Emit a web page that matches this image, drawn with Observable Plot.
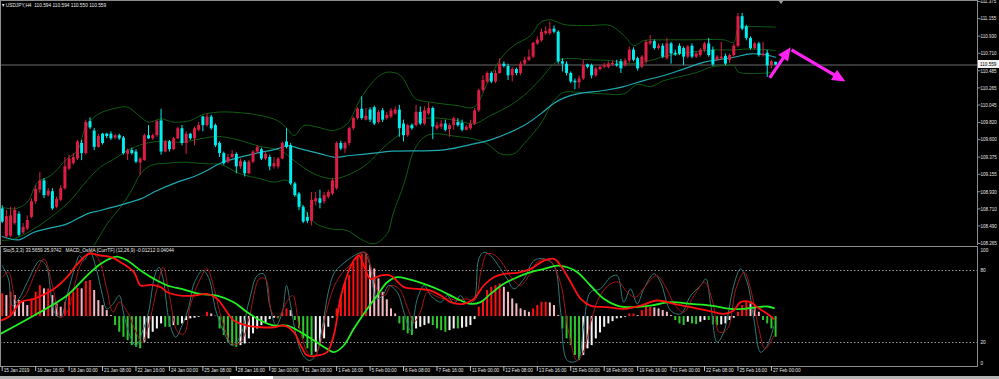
<!DOCTYPE html>
<html><head><meta charset="utf-8">
<script src="https://cdn.jsdelivr.net/npm/d3@7"></script>
<script src="https://cdn.jsdelivr.net/npm/@observablehq/plot@0.6"></script>
<style>
html,body{margin:0;padding:0;background:#000;width:999px;height:379px;overflow:hidden;}
#wrap{position:relative;width:999px;height:379px;background:#000;}
#wrap svg{display:block;}
.lbl{position:absolute;color:#e8e8e8;font-size:6px;font-family:"Liberation Sans",Arial,sans-serif;white-space:pre;line-height:8px;transform:scaleX(0.8);transform-origin:0 50%;}
</style></head><body><div id="wrap"></div>
<script>
// ---- candles (USDJPY H4), bar index 0 = 15 Jan 2019 08:00 ----
const open = [108.71,108.35,108.36,108.52,108.64,108.40,108.45,108.60,108.80,108.95,
109.07,108.88,108.93,108.73,108.82,108.97,109.22,109.29,109.35,109.55,
109.42,109.83,109.71,109.50,109.67,109.67,109.67,109.62,109.65,109.62,
109.41,109.46,109.44,109.30,109.33,109.65,109.61,109.65,109.84,109.44,
109.57,109.47,109.61,109.74,109.55,109.67,109.61,109.72,109.89,109.78,
109.89,109.78,109.55,109.42,109.31,109.37,109.41,109.25,109.31,109.16,
109.31,109.44,109.47,109.35,109.37,109.25,109.25,109.35,109.57,109.52,
109.03,108.90,108.73,108.60,108.55,108.80,108.84,108.80,108.86,108.90,
108.97,109.55,109.48,109.55,109.74,109.87,109.99,109.85,109.98,110.01,
109.82,109.97,109.87,109.89,109.93,109.98,109.80,109.65,109.78,109.78,
109.95,109.80,109.93,110.00,109.74,109.76,109.80,109.73,109.78,109.82,
109.81,109.72,109.74,109.80,109.97,110.23,110.34,110.45,110.34,110.45,
110.57,110.54,110.42,110.50,110.45,110.57,110.62,110.66,110.83,110.87,
110.96,110.96,111.02,110.98,110.60,110.57,110.45,110.35,110.33,110.38,
110.56,110.55,110.42,110.50,110.53,110.53,110.56,110.57,110.60,110.55,
110.61,110.75,110.64,110.53,110.60,110.83,110.86,110.77,110.80,110.64,
110.83,110.71,110.80,110.77,110.66,110.80,110.66,110.68,110.75,110.83,
110.75,110.62,110.64,110.67,110.62,110.68,110.80,111.18,111.05,110.90,
110.77,110.83,110.68,110.71,110.55,110.594];
const high = [108.75,108.69,108.73,108.73,108.67,108.52,108.62,108.84,109.01,109.18,
109.10,108.97,108.97,108.86,109.01,109.37,109.40,109.42,109.59,109.59,
109.85,109.88,109.74,109.67,109.68,109.68,109.70,109.67,109.67,109.64,
109.48,109.49,109.47,109.37,109.67,109.78,109.67,109.85,109.99,109.59,
109.59,109.63,109.76,109.78,109.70,109.68,109.76,109.82,109.90,109.93,
109.91,109.80,109.57,109.44,109.41,109.46,109.43,109.35,109.33,109.33,
109.46,109.52,109.49,109.44,109.40,109.37,109.37,109.57,109.74,109.55,
109.05,108.92,108.75,108.66,108.92,108.92,108.95,108.92,108.95,109.10,
109.57,109.58,109.57,109.76,109.89,110.01,110.15,110.00,110.01,110.03,
109.98,110.00,109.95,110.00,110.02,110.04,109.85,109.80,109.80,110.04,
110.02,110.02,110.07,110.02,109.82,109.85,109.85,109.80,109.89,109.87,
109.85,109.78,109.85,110.00,110.25,110.42,110.47,110.47,110.49,110.64,
110.60,110.57,110.53,110.52,110.60,110.66,110.75,110.85,110.92,111.02,
111.05,111.11,111.06,111.00,110.64,110.60,110.47,110.38,110.42,110.62,
110.57,110.57,110.53,110.55,110.58,110.60,110.61,110.62,110.63,110.64,
110.79,110.78,110.66,110.68,110.87,110.94,110.88,110.83,110.83,110.90,
110.85,110.75,110.83,110.79,110.81,110.83,110.72,110.77,110.85,110.90,
110.79,110.68,110.85,110.70,110.70,110.83,111.22,111.22,111.07,110.92,
110.85,110.85,110.85,110.75,110.62,110.594];
const low = [108.52,108.33,108.34,108.50,108.35,108.38,108.43,108.58,108.77,108.91,
108.84,108.86,108.69,108.71,108.80,108.95,109.20,109.27,109.33,109.33,
109.40,109.73,109.46,109.49,109.53,109.61,109.59,109.60,109.59,109.40,
109.33,109.40,109.29,109.14,109.32,109.60,109.59,109.63,109.40,109.43,
109.44,109.46,109.60,109.52,109.41,109.59,109.52,109.70,109.70,109.76,
109.72,109.50,109.37,109.27,109.29,109.35,109.16,109.22,109.12,109.15,
109.29,109.42,109.33,109.33,109.20,109.22,109.22,109.34,109.48,109.01,
108.86,108.69,108.52,108.52,108.49,108.75,108.71,108.77,108.84,108.88,
108.95,109.46,109.42,109.52,109.72,109.85,109.85,109.84,109.82,109.78,
109.80,109.82,109.85,109.87,109.91,109.63,109.57,109.63,109.72,109.76,
109.78,109.78,109.91,109.60,109.72,109.73,109.70,109.63,109.72,109.76,
109.70,109.71,109.72,109.78,109.95,110.21,110.32,110.32,110.32,110.44,
110.52,110.36,110.34,110.42,110.42,110.55,110.60,110.64,110.81,110.85,
110.94,110.94,110.96,110.57,110.47,110.42,110.32,110.24,110.25,110.36,
110.51,110.38,110.40,110.48,110.51,110.51,110.54,110.53,110.45,110.53,
110.58,110.60,110.48,110.51,110.57,110.81,110.75,110.75,110.64,110.62,
110.57,110.67,110.68,110.55,110.64,110.64,110.64,110.66,110.72,110.66,
110.54,110.60,110.62,110.55,110.58,110.66,110.78,111.00,110.87,110.75,
110.75,110.66,110.66,110.40,110.51,110.550];
const close = [108.54,108.61,108.62,108.69,108.37,108.47,108.56,108.80,108.96,109.07,
108.88,108.94,108.71,108.83,108.97,109.25,109.35,109.37,109.57,109.42,
109.82,109.75,109.50,109.64,109.55,109.64,109.61,109.65,109.61,109.42,
109.46,109.42,109.31,109.35,109.65,109.61,109.65,109.83,109.44,109.57,
109.47,109.61,109.74,109.55,109.67,109.61,109.74,109.78,109.78,109.89,
109.74,109.52,109.42,109.29,109.37,109.41,109.25,109.32,109.16,109.31,
109.44,109.50,109.35,109.41,109.25,109.29,109.35,109.55,109.50,109.03,
108.88,108.73,108.54,108.55,108.82,108.84,108.78,108.88,108.92,109.07,
109.55,109.48,109.55,109.74,109.87,109.99,109.87,109.90,109.85,109.80,
109.95,109.85,109.91,109.97,109.98,109.74,109.65,109.78,109.74,109.95,
109.80,109.97,110.00,109.76,109.78,109.80,109.72,109.78,109.87,109.78,
109.72,109.76,109.80,109.97,110.23,110.36,110.45,110.34,110.45,110.57,
110.54,110.42,110.50,110.45,110.57,110.62,110.66,110.84,110.88,110.98,
110.99,111.02,110.98,110.60,110.57,110.45,110.34,110.33,110.38,110.55,
110.53,110.42,110.51,110.53,110.55,110.57,110.58,110.55,110.51,110.61,
110.75,110.62,110.51,110.66,110.85,110.86,110.77,110.80,110.66,110.83,
110.70,110.69,110.70,110.66,110.79,110.66,110.70,110.75,110.83,110.68,
110.56,110.66,110.66,110.57,110.68,110.80,111.18,111.02,110.90,110.77,
110.83,110.68,110.70,110.55,110.60,110.559];

// ---- Bollinger bands and moving average, read as [bar, price] ----
const bbUpper = [[0,108.731],[3,108.710],[6,108.796],[8.5,109.053],[11.6,109.138],[15.5,109.353],[18,109.460],[20,109.760],[22.8,109.922],[27.5,110.008],[30,110.017],[33,109.897],[35,109.824],[38,109.867],[41,109.824],[45,109.845],[48,109.922],[51.4,109.952],[55.4,109.952],[61.8,109.910],[65.8,109.845],[68.2,109.738],[69.8,109.652],[72.2,109.781],[75.4,109.760],[79.3,109.717],[82.5,109.802],[85.7,110.124],[88.9,110.359],[91.3,110.454],[93.2,110.466],[95.3,110.424],[97.7,110.209],[98.9,110.124],[102.5,110.081],[108.8,110.038],[112.8,110.017],[116,110.317],[119.2,110.638],[122.4,110.809],[126.4,110.938],[128.8,111.109],[131.2,111.139],[134.4,111.079],[140.7,111.066],[145.5,111.066],[148.7,110.938],[151.1,110.809],[153.5,110.873],[158.3,110.882],[164.7,110.882],[172.6,110.882],[175,110.852],[176.2,111.045],[179,111.053],[185,111.045]];
const bbMiddle = [[0,108.303],[2.8,108.324],[7.6,108.453],[15.5,108.774],[20.3,109.074],[23.5,109.246],[27.5,109.374],[29.9,109.460],[33.9,109.545],[37.9,109.580],[42.7,109.567],[47.4,109.610],[51.4,109.640],[55.4,109.610],[61.8,109.511],[66.6,109.460],[69.8,109.331],[74.6,109.160],[79.3,109.096],[83.3,109.160],[87.3,109.288],[91.3,109.503],[93.2,109.588],[95.3,109.674],[100.9,109.867],[108.8,109.845],[112.8,109.802],[116.8,109.910],[120.8,110.017],[124.8,110.167],[128.8,110.381],[132,110.574],[134.4,110.638],[140.7,110.625],[145.5,110.616],[150.3,110.574],[155.1,110.616],[158.3,110.668],[164.7,110.724],[171,110.753],[175,110.753],[179,110.766],[185,110.745]];
const bbLower = [[0,107.875],[8,107.575],[14,107.832],[18,108.003],[21.9,108.239],[25.1,108.517],[28.3,108.731],[30.7,108.924],[33.1,109.160],[35.5,109.267],[39.5,109.297],[43.5,109.310],[49,109.288],[52.2,109.280],[57,109.160],[61.8,109.096],[65,109.053],[68.2,109.074],[70.6,108.860],[74.6,108.539],[78.5,108.453],[82.5,108.432],[85.7,108.324],[88.9,108.260],[92.1,108.389],[93.5,108.646],[96.1,109.031],[98.5,109.460],[100.9,109.631],[103.3,109.674],[108.8,109.640],[112.8,109.610],[116,109.545],[119.2,109.417],[122.4,109.417],[124.8,109.545],[128.8,109.802],[132,110.102],[134.4,110.209],[137.6,110.209],[143.9,110.188],[148.7,110.188],[151.9,110.308],[155.1,110.282],[158.3,110.359],[161.5,110.402],[166.3,110.466],[169.5,110.531],[172.6,110.552],[175,110.552],[176.2,110.466],[185,110.466]];
const movingAvg = [[0,108.354],[4,108.312],[7.6,108.410],[15.5,108.517],[20.3,108.646],[23.5,108.689],[29.9,108.783],[33.1,108.838],[37.1,108.946],[41.9,109.053],[45.9,109.126],[49,109.203],[52.2,109.297],[55.4,109.353],[60.2,109.417],[65.8,109.481],[68.2,109.524],[71.4,109.481],[76.2,109.417],[79.3,109.374],[83.3,109.396],[88.9,109.426],[93.2,109.451],[105.7,109.468],[112.8,109.545],[116.8,109.597],[124.8,109.781],[128.8,109.931],[132,110.068],[134.4,110.137],[137.6,110.188],[143.9,110.231],[148.7,110.282],[153.5,110.359],[158.3,110.424],[163.1,110.509],[167.9,110.595],[171,110.625],[175,110.659],[179,110.702],[182.2,110.694],[185,110.659]];

// ---- hand-drawn arrows [bar1, price1, bar2, price2] ----
const arrows = [[183.6,110.394,188.6,110.788],[188.8,110.754,201.7,110.347]];

// ---- oscillator window (0..100 scale) ----
const osmaZero = 41.6;
const osma = [18.9,17.5,20.3,17.5,13.3,11.9,9.2,14.7,20.3,25.8,
23.1,23.1,17.5,10.6,7.8,11.9,18.9,20.3,23.6,23.1,
29.2,30,21.7,13.3,9.2,5,0.8,-7.5,-13.1,-17.2,
-20,-24.2,-25.6,-26.9,-21.4,-18.6,-13.1,-10.3,-6.1,-8.9,
-8.9,-7.5,-7.5,-6.1,-3.3,-1.9,-1.4,-0.6,0.3,3.6,
2.2,0.3,-10.3,-15.8,-21.4,-24.2,-25.6,-24.2,-22.8,-18.6,
-14.4,-10.3,-7.5,-5.3,-2.5,-1.4,-1.9,3.6,6.4,5,
-3.3,-10.3,-18.6,-26.9,-32.5,-29.7,-24.2,-18.6,-8.9,-1.4,
6.4,17.5,28.6,34.2,45.3,49.4,52.2,52.2,42.5,39.7,
31.4,20.3,14,6.4,2.2,-6.1,-11.7,-14.4,-15.8,-10.3,
-8.9,-7.5,-6.1,-7.5,-10.3,-11.7,-13.1,-11.7,-10.3,-10.3,
-9.7,-8.9,-7.5,-2.5,7.8,13.3,21.7,24.4,25.8,27.2,
24.4,20.3,14.7,10.6,6.4,5,3.6,6.4,9.2,11.9,
11.9,11.4,9.2,0.8,-10.3,-18.6,-24.2,-32.5,-36.7,-32.5,
-26.9,-24.2,-18.6,-13.6,-8.9,-6.1,-4.2,-1.9,-1.4,-0.6,
2.2,2.2,0.8,5,7.8,7.8,7.2,6.4,5,3.6,
0.8,-3.3,-6.1,-7.5,-4.7,-6.1,-6.7,-4.7,-3.3,-3.3,
-6.9,-7.5,-6.9,-6.1,-3.3,-1.4,3.6,9.2,11.9,10.6,
7.8,3.6,-3.3,-6.1,-10.3,-17.2];
const stochMain = [[0,84.1],[1.5,73],[2.4,50.8],[4,56.4],[6,70.2],[9,88.3],[10.5,84.1],[12.5,45.2],[14,41.1],[15.5,59.1],[17.5,84.1],[18.5,92.5],[19.5,88.3],[21,95.2],[22.5,81.4],[24,59.1],[25,48],[26.5,52.2],[28,59.1],[29,45.2],[30.5,25.8],[32,17.5],[33.5,28.6],[35,45.2],[36.5,75.8],[37.5,82.7],[38.5,73],[40,36.9],[41.5,24.4],[43,34.1],[44.5,48],[46,70.2],[48,80],[49.5,73],[51,48],[53,28.6],[55,17.5],[57,25.8],[59,53.6],[61,75.8],[62.5,77.2],[64,50.8],[65.5,34.1],[67,45.2],[68,67.5],[69,50.8],[70.5,23],[72,9.1],[73.5,5],[75,9.1],[76.5,31.4],[78,61.9],[79.5,78.6],[81,84.1],[83,89.7],[85,93.9],[86.5,95.2],[88,84.1],[89.5,56.4],[91,59.1],[92.5,67.5],[94.5,61.9],[96.1,45.2],[97.7,30],[99.3,56.4],[100.9,67.5],[102.5,59.1],[104.9,53.6],[106.5,59.1],[108,52.2],[109.6,59.1],[111.2,52.2],[112.8,55],[114,89.7],[115.2,95.2],[116.8,92.5],[119.2,81.4],[120.8,73],[122.4,64.7],[124.8,73],[127.2,88.3],[129.6,89.7],[132,84.1],[133.6,45.2],[135.2,5],[137.6,5],[139.1,34.1],[140.7,61.9],[143.1,64.7],[145.5,74.4],[147.1,75.8],[148.7,53.6],[150.3,64.7],[151.9,52.2],[153.5,64.7],[155.9,77.2],[157.5,70.2],[159.9,46.6],[162.3,43.9],[164.7,59.1],[167.1,67.5],[168.3,73],[169.5,50.8],[171,20.2],[172.6,28.6],[175,67.5],[176.6,81.4],[178.2,70.2],[179.8,39.7],[181.4,11.9],[183,17.5],[184.6,33.6]];
const stochSignal = [[0,74.4],[1.5,78.6],[3.5,53.6],[5.5,59.1],[8,78.6],[10,89.7],[12,67.5],[14,41.1],[15.5,45.2],[17.5,70.2],[19,86.9],[21,95.2],[23,89.7],[25,64.7],[26.5,45.2],[28,53.6],[30,45.2],[32,28.6],[33.5,20.2],[35,34.1],[37,64.7],[38.5,82.7],[40,59.1],[42,28.6],[43.5,27.2],[45,50.8],[47,70.2],[49,81.4],[50.5,67.5],[52.5,39.7],[55,18.9],[57,20.2],[59,39.7],[61.5,73],[63,73],[64.5,45.2],[66,41.1],[68,53.6],[69.5,59.1],[71,34.1],[73,11.9],[74.5,7.7],[76,17.5],[77.5,45.2],[79.5,67.5],[81.5,78.6],[83.5,85.5],[85.5,93.9],[87,95.2],[88.5,78.6],[90,61.9],[91.5,59.1],[93,67.5],[95,64.7],[96.9,49.4],[98.5,36.9],[100,45.2],[101.7,61.9],[103.5,59.1],[105.5,56.4],[107,56.4],[109,55],[111,56.4],[113,55],[114.5,78.6],[116,93.9],[118,92.5],[120,84.1],[122,73],[124,67.5],[126,75.8],[128.5,88.3],[131,88.3],[133.5,70.2],[135.5,28.6],[137.5,5],[139,11.9],[141,39.7],[143,59.1],[145.5,68.9],[147.5,70.2],[149.5,61.9],[151.5,57.7],[154,67.5],[156.5,75.8],[158.5,67.5],[161,50.8],[163,45.2],[165.5,59.1],[168,70.2],[170,53.6],[171.5,28.6],[173.5,31.4],[175.5,64.7],[177.5,78.6],[179,64.7],[181,31.4],[182.5,14.7],[184.6,25.8]];
const macdMain = [[-0.4,38.3],[2,42.5],[4.4,53.6],[7.6,56.4],[12.4,64.7],[15.5,74.4],[18,85.5],[20.7,93.9],[23.5,92.5],[26,91.1],[28.3,86.9],[31.5,78.6],[33.1,67.5],[35.5,68],[37.9,66.1],[39.5,61.9],[42.7,59.1],[45.9,59.1],[49,60.5],[51.4,56.4],[53.8,45.2],[55.4,38.3],[58.6,34.1],[61.8,32.7],[65,32.7],[67.4,34.1],[69.8,28.6],[71.4,17.5],[73,9.1],[75.4,9.1],[77.7,11.9],[79.3,25.8],[80.9,56.4],[82.5,75.8],[84.1,88.3],[85.3,92.5],[86.5,84.1],[88.1,73],[90.5,75.8],[92.9,75.8],[96.1,66.1],[99.3,64.7],[102.5,63.3],[104.9,59.1],[107.3,53.6],[110.4,52.2],[112.8,56.4],[115.2,67.5],[117.6,74.4],[120,77.2],[123.2,78],[126.4,81.4],[129.6,88.3],[132,89.7],[133.6,84.1],[136,70.2],[138.4,56.4],[140.7,50.8],[144.7,49.4],[148.7,48],[152.7,50.8],[156.7,55],[160.7,52.2],[164.7,49.4],[168.7,46.6],[172.6,43.9],[175,46.6],[176.6,53.6],[179,53.6],[180.6,49.4],[183,43.9],[184.6,39.7]];
const macdSignal = [[-0.4,27.2],[7.6,42.5],[15.5,59.1],[20.3,75.8],[23.5,85.5],[26.7,91.1],[27.5,91.6],[29.9,88.3],[33.1,80],[36.3,73],[39.5,67.5],[43.5,64.1],[47.4,60.5],[51.4,59.1],[55.4,53.6],[58.6,45.2],[61.8,38.3],[65,34.1],[68.2,34.1],[71.4,28.6],[74.6,21.6],[77.7,14.7],[79.3,11.9],[81.7,17.5],[84.1,31.4],[87.3,48],[89.7,59.1],[92.1,70.2],[94.5,74.4],[96.9,73],[100.9,68.9],[104.9,63.3],[108.8,56.4],[112,52.2],[114.4,53.6],[116.8,60.5],[120,68.9],[123.2,74.4],[126.4,78.6],[129.6,81.4],[132.8,84.1],[135.2,82.7],[137.6,78.6],[140.7,67.5],[143.9,56.4],[147.1,50.8],[150.3,49.4],[155.1,50.8],[159.9,53.6],[164.7,52.2],[169.5,50.8],[174.2,48],[177.4,48],[180.6,49.4],[183,50],[184.6,48.6]];

// ---- axes ----
const priceTicks = [111.375,111.155,110.930,110.710,110.485,110.265,110.045,109.820,109.600,109.375,109.155,108.930,108.710,108.490,108.265];
const timeTickBars = [0,8,16,24,32,40,48,56,64,72,80,88,96,104,112,120,128,136,144,152,160,168,176,184];
const timeLabels = ["15 Jan 2019","16 Jan 16:00","18 Jan 00:00","21 Jan 08:00","22 Jan 16:00","24 Jan 00:00","25 Jan 08:00","28 Jan 16:00","30 Jan 00:00","31 Jan 08:00","1 Feb 16:00","5 Feb 00:00","6 Feb 08:00","7 Feb 16:00","11 Feb 00:00","12 Feb 08:00","13 Feb 16:00","15 Feb 00:00","18 Feb 08:00","19 Feb 16:00","21 Feb 00:00","22 Feb 08:00","25 Feb 16:00","27 Feb 00:00"];
const oscLevels = [20, 80];

const FONT = '"Liberation Sans",Arial,sans-serif';
const SQUEEZE = 0.78;
const UP = "#dc1e46", DN = "#00eef0", GRID = "#8c8c8c", PINK = "#ff22f2";
const N = close.length;
const candles = d3.range(N).map(i => ({i, o: open[i], h: high[i], l: low[i], c: close[i], col: close[i] >= open[i] ? UP : DN}));
const lastClose = close[N - 1];
const xDomain = [-0.41, 233.3];
const pts = a => a.map(([x, y]) => ({x, y}));

// filled arrow head whose tip sits at the symbol origin, pointing up
const arrowHead = {draw(ctx, size) {
  const l = Math.sqrt(size) * 1.15, w = l * 0.45;
  ctx.moveTo(0, 0); ctx.lineTo(-w, l); ctx.lineTo(w, l); ctx.closePath();
}};

function buildA(extra) {
  return Plot.plot({
    width: 999, height: 245, marginLeft: 0, marginRight: 22, marginTop: 0, marginBottom: 0,
    style: {background: "#000", color: "#e6e6e6", fontSize: "5.8px", fontFamily: FONT},
    x: {domain: xDomain, axis: null},
    y: {domain: [108.239, 111.388], axis: null},
    marks: [
      Plot.ruleY([lastClose], {stroke: "#474747", strokeWidth: 1.6}),
      Plot.line(pts(bbUpper), {x: "x", y: "y", stroke: "#0f5c12", strokeWidth: 1, curve: "catmull-rom", clip: true}),
      Plot.line(pts(bbMiddle), {x: "x", y: "y", stroke: "#0f5c12", strokeWidth: 1, curve: "catmull-rom", clip: true}),
      Plot.line(pts(bbLower), {x: "x", y: "y", stroke: "#0f5c12", strokeWidth: 1, curve: "catmull-rom", clip: true}),
      Plot.line(pts(movingAvg), {x: "x", y: "y", stroke: "#1fa8b0", strokeWidth: 1.2, curve: "catmull-rom", clip: true}),
      Plot.ruleX(candles, {x: "i", y1: "l", y2: "h", stroke: "col", strokeWidth: 1}),
      Plot.ruleX(candles, {x: "i", y1: "o", y2: "c", stroke: "col", strokeWidth: 3}),
      ...extra,
      Plot.axisY({anchor: "right", ticks: priceTicks, tickFormat: d => d.toFixed(3), tickSize: 2.5, tickPadding: 0.5, stroke: GRID}),
      Plot.frame({stroke: GRID})
    ]
  });
}
const probe = buildA([]);
const sx = probe.scale("x"), sy = probe.scale("y");
const shafts = arrows.map(([x1, y1, x2, y2]) => {
  const dx = sx.apply(x2) - sx.apply(x1), dy = sy.apply(y2) - sy.apply(y1);
  const f = 8 / Math.hypot(dx, dy);
  return {x1, y1, x2: x2 - (x2 - x1) * f, y2: y2 - (y2 - y1) * f, tx: x2, ty: y2, a: Math.atan2(dx, -dy) * 180 / Math.PI};
});
const plotA = buildA([
  Plot.link(shafts, {x1: "x1", y1: "y1", x2: "x2", y2: "y2", stroke: PINK, strokeWidth: 3.2}),
  Plot.dot(shafts, {x: "tx", y: "ty", r: 6.5, symbol: arrowHead, fill: PINK, stroke: null, rotate: "a"})
]);

const bars = osma.map((v, i) => {
  const p = i > 0 ? osma[i - 1] : v;
  const col = v >= 0 ? (v >= p ? "#ff1010" : "#f5b8c4") : (v <= p ? "#2cc82c" : "#f4f4f4");
  return {i, v, col};
});

const plotB = Plot.plot({
  width: 999, height: 134, marginLeft: 0, marginRight: 22, marginTop: 1, marginBottom: 13,
  style: {background: "#000", color: "#e6e6e6", fontSize: "6px", fontFamily: FONT},
  x: {domain: xDomain, axis: null},
  y: {domain: [0, 100], axis: null},
  marks: [
    Plot.ruleY(oscLevels, {stroke: "#9a9a9a", strokeDasharray: "1.5,2"}),
    Plot.ruleX(bars, {x: "i", y1: () => osmaZero, y2: d => osmaZero + d.v, stroke: "col", strokeWidth: 2}),
    Plot.line(pts(stochMain), {x: "x", y: "y", stroke: "#2f7a7a", strokeWidth: 1, curve: "catmull-rom"}),
    Plot.line(pts(stochSignal), {x: "x", y: "y", stroke: "#a81414", strokeWidth: 1, curve: "catmull-rom"}),
    Plot.line(pts(macdSignal), {x: "x", y: "y", stroke: "#22f022", strokeWidth: 1.8, curve: "catmull-rom"}),
    Plot.line(pts(macdMain), {x: "x", y: "y", stroke: "#ff1010", strokeWidth: 1.8, curve: "catmull-rom"}),
    Plot.frame({stroke: GRID}),
    Plot.text(oscLevels, {y: d => d, text: d => String(d), frameAnchor: "right", textAnchor: "start", dx: 3}),
    Plot.text([100], {y: d => d, text: d => String(d), frameAnchor: "right", textAnchor: "start", dx: 3, dy: 3.5}),
    Plot.text([0], {y: d => d, text: d => String(d), frameAnchor: "right", textAnchor: "start", dx: 3, dy: -3}),
    Plot.axisX({ticks: timeTickBars, tickSize: 5, tickFormat: () => "", stroke: "#bdbdbd"}),
    Plot.text(timeTickBars, {x: d => d, text: (d, i) => timeLabels[i], frameAnchor: "bottom", textAnchor: "start", dx: 1.5, dy: 5.5})
  ]
});

const wrap = document.getElementById("wrap");
wrap.appendChild(plotA);
wrap.appendChild(plotB);
// narrow the type like the terminal's condensed font
wrap.querySelectorAll("svg text").forEach(t => {
  const L = t.getComputedTextLength();
  if (L > 0) { t.setAttribute("textLength", (L * SQUEEZE).toFixed(2)); t.setAttribute("lengthAdjust", "spacingAndGlyphs"); }
});

function addLabel(text, css) {
  const d = document.createElement("div");
  d.className = "lbl";
  d.textContent = text;
  Object.assign(d.style, css);
  wrap.appendChild(d);
  return d;
}
addLabel("\u25BE USDJPY,H4  " + [open[N-1], high[N-1], low[N-1], close[N-1]].map(v => v.toFixed(3)).join(" "), {left: "2px", top: "1px"});
addLabel("Sto(5,3,3) 33.5659 25.9742   MACD_OsMA [CurrTF] (12,26,9) -0.01212 0.04044", {left: "3px", top: "246px"});
const py = plotA.scale("y").apply(lastClose);
const box = document.createElement("div");
Object.assign(box.style, {position: "absolute", left: "978px", top: (py - 4) + "px", width: "21px", height: "8px", background: "#f2f2f2"});
wrap.appendChild(box);
addLabel(lastClose.toFixed(3), {left: "979.5px", top: (py - 4) + "px", color: "#000", fontSize: "5.8px"});
// chart-shift marker
const tri = document.createElement("div");
Object.assign(tri.style, {position: "absolute", left: "778px", top: "0px", width: 0, height: 0, borderLeft: "3px solid transparent", borderRight: "3px solid transparent", borderTop: "4px solid #9a9a9a"});
wrap.appendChild(tri);
// bottom scrollbar strip
const strip = document.createElement("div");
Object.assign(strip.style, {position: "absolute", left: "0px", top: "376px", width: "999px", height: "3px", background: "#b4b4b4"});
wrap.appendChild(strip);
const thumb = document.createElement("div");
Object.assign(thumb.style, {position: "absolute", left: "230px", top: "376px", width: "43px", height: "3px", background: "#fff"});
wrap.appendChild(thumb);
</script>
</body></html>
